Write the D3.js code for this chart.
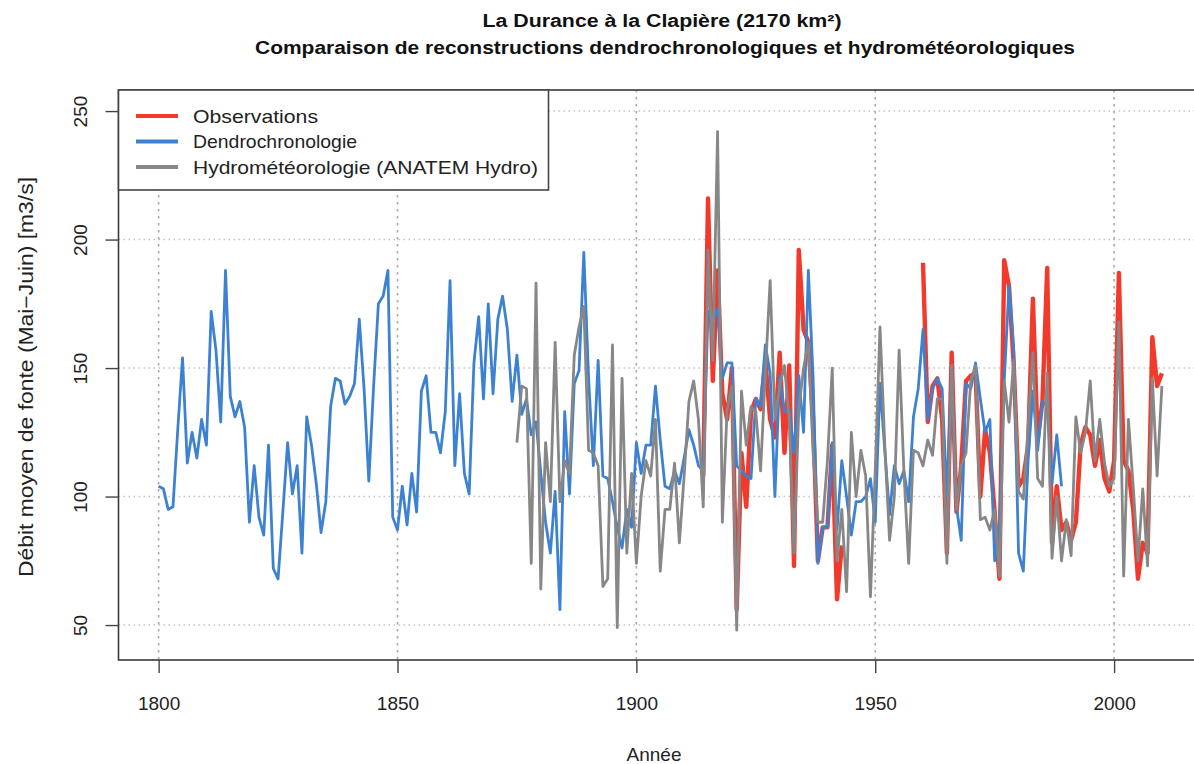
<!DOCTYPE html>
<html>
<head>
<meta charset="utf-8">
<script src="https://cdn.jsdelivr.net/npm/d3@7"></script>
<style>
  html, body { margin: 0; padding: 0; background: #fff; }
  svg { display: block; font-family: "Liberation Sans", Arial, Helvetica, sans-serif; }
</style>
</head>
<body>
<svg id="chart" width="1194" height="764"></svg>
<script>
// ---------- DATA ----------
const titleLines = ["La Durance à la Clapière (2170 km²)",
                    "Comparaison de reconstructions dendrochronologiques et hydrométéorologiques"];
const xLabel = "Année";
const yLabel = "Débit moyen de fonte (Mai\u2212Juin) [m3/s]";
const xTicks = [1800, 1850, 1900, 1950, 2000];
const yTicks = [50, 100, 150, 200, 250];
const seriesNames = ["Observations", "Dendrochronologie", "Hydrométéorologie (ANATEM Hydro)"];
const seriesColors = ["#f23a2c", "#3d82d2", "#878787"];

// Dendrochronology reconstruction, 1800-1989
const dendroStart = 1800;
const dendroValues = [
  104,103,95,96,126,154,113,125,115,130,     // 1800-1809
  120,172,157,129,188,139,131,137,127,90,    // 1810-1819
  112,92,85,120,72,68,94,121,101,112,        // 1820-1829
  78,131,120,105,86,98,135,146,145,136,      // 1830-1839
  139,144,169,142,106,143,175,178,188,92,    // 1840-1849
  87,104,89,109,94,141,147,125,125,117,      // 1850-1859
  133,184,112,140,109,101,152,170,138,175,   // 1860-1869
  140,169,178,165,137,155,132,138,124,129,   // 1870-1879
  109,90,78,102,56,133,101,144,149,195,      // 1880-1889
  146,112,153,108,107,98,88,80,95,88,        // 1890-1899
  121,109,120,120,143,122,104,103,110,105,   // 1900-1909
  115,126,120,112,110,172,169,173,146,152,   // 1910-1919
  152,112,110,108,107,138,135,159,148,100,   // 1920-1929
  147,133,134,117,147,125,188,146,74,88,     // 1930-1939
  88,121,87,114,100,85,98,98,100,107,        // 1940-1949
  90,144,118,93,112,105,110,98,131,142,      // 1950-1959
  165,130,142,146,142,100,150,96,83,144,     // 1960-1969
  142,152,138,125,130,75,88,145,182,157,     // 1970-1979
  78,71,114,141,118,137,135,105,124,104      // 1980-1989
];

// Observations, 1914-2010 (no data 1944-1959)
const obsStart = 1914;
const obsValues = [
  108,216,145,188,140,130,                   // 1914-1919
  150,56,117,96,133,138,134,153,130,123,     // 1920-1929
  156,117,151,73,196,165,160,130,75,88,      // 1930-1939
  88,120,60,81,null,null,null,null,null,null,// 1940-1949
  null,null,null,null,null,null,null,null,null,null, // 1950-1959
  191,129,143,146,130,78,156,94,112,145,     // 1960-1969
  147,148,100,126,117,94,68,192,182,151,     // 1970-1979
  104,107,120,177,122,137,189,82,104,87,     // 1980-1989
  90,83,90,120,127,124,112,122,107,102,      // 1990-1999
  114,187,114,110,95,68,82,78,162,143,       // 2000-2009
  148                                        // 2010
];

// Hydrometeorological reconstruction (ANATEM Hydro), 1875-2010
const hydroStart = 1875;
const hydroValues = [
  121,143,142,74,183,                        // 1875-1879
  64,121,98,160,98,114,109,155,166,174,      // 1880-1889
  118,117,112,65,68,159,49,146,78,109,       // 1890-1899
  74,100,114,108,130,71,95,95,113,82,        // 1900-1909
  108,137,145,130,96,196,153,242,90,134,     // 1910-1919
  143,48,141,120,135,133,110,148,184,130,    // 1920-1929
  143,151,130,78,134,150,160,117,90,90,      // 1930-1939
  114,150,75,95,63,125,100,118,108,61,       // 1940-1949
  110,166,120,83,100,157,110,74,118,117,     // 1950-1959
  112,122,116,138,138,74,151,95,112,117,     // 1960-1969
  145,151,91,92,87,95,69,145,129,153,        // 1970-1979
  102,99,127,156,107,104,148,76,100,75,      // 1980-1989
  91,77,131,117,125,145,114,130,113,104,     // 1990-1999
  107,168,69,130,104,75,103,73,146,108,      // 2000-2009
  143                                        // 2010
];

// ---------- CHART ----------
const svg = d3.select("#chart");
const plot = {left: 118.5, right: 1202, top: 90, bottom: 660};

const x = d3.scaleLinear().domain([1791.6, 2018.4]).range([plot.left, plot.right]);
const y = d3.scaleLinear().domain([36.4, 258.2]).range([plot.bottom, plot.top]);

const toPts = (start, vals) => vals.map((v, i) => ({year: start + i, v: v}));
const obs = toPts(obsStart, obsValues);
const dendro = toPts(dendroStart, dendroValues);
const hydro = toPts(hydroStart, hydroValues);

// clip
svg.append("defs").append("clipPath").attr("id", "clip")
  .append("rect").attr("x", plot.left).attr("y", plot.top)
  .attr("width", plot.right - plot.left).attr("height", plot.bottom - plot.top);

// grid
const grid = svg.append("g");
grid.selectAll("line.h").data(yTicks).join("line")
  .attr("x1", plot.left).attr("x2", plot.right)
  .attr("y1", d => y(d)).attr("y2", d => y(d))
  .attr("stroke", "#c4c4c4").attr("stroke-width", 1.4).attr("stroke-dasharray", "1.5,3.5");
grid.selectAll("line.v").data(xTicks).join("line")
  .attr("x1", d => x(d)).attr("x2", d => x(d))
  .attr("y1", plot.top).attr("y2", plot.bottom)
  .attr("stroke", "#a8a8a8").attr("stroke-width", 1.6).attr("stroke-dasharray", "2.5,4.5");

// lines
const line = d3.line().defined(d => d.v != null).x(d => x(d.year)).y(d => y(d.v));
const lines = svg.append("g").attr("clip-path", "url(#clip)");
lines.append("path").datum(obs).attr("d", line)
  .attr("fill", "none").attr("stroke", seriesColors[0]).attr("stroke-width", 4.4)
  .attr("stroke-linejoin", "round");
lines.append("path").datum(dendro).attr("d", line)
  .attr("fill", "none").attr("stroke", seriesColors[1]).attr("stroke-width", 2.8)
  .attr("stroke-linejoin", "round");
lines.append("path").datum(hydro).attr("d", line)
  .attr("fill", "none").attr("stroke", seriesColors[2]).attr("stroke-width", 2.8)
  .attr("stroke-linejoin", "round");

// box
svg.append("rect").attr("x", plot.left).attr("y", plot.top)
  .attr("width", plot.right - plot.left).attr("height", plot.bottom - plot.top)
  .attr("fill", "none").attr("stroke", "#3a3a3a").attr("stroke-width", 1.6);

// x axis
const xAxis = svg.append("g").attr("transform", `translate(0,${plot.bottom})`)
  .call(d3.axisBottom(x).tickValues(xTicks).tickFormat(d3.format("d")).tickSize(13).tickPadding(24));
xAxis.select(".domain").remove();
xAxis.selectAll(".tick line").attr("stroke", "#444").attr("stroke-width", 1.4);
xAxis.selectAll(".tick text").attr("font-size", 19).attr("fill", "#222")
  .attr("font-family", "'Liberation Sans', Arial, sans-serif");

// y axis
const yAxis = svg.append("g").attr("transform", `translate(${plot.left},0)`)
  .call(d3.axisLeft(y).tickValues(yTicks).tickSize(13).tickPadding(0).tickFormat(d3.format("d")));
yAxis.select(".domain").remove();
yAxis.selectAll(".tick line").attr("stroke", "#444").attr("stroke-width", 1.4);
yAxis.selectAll(".tick text")
  .attr("x", 0).attr("dy", 0)
  .attr("transform", "translate(-32,0) rotate(-90)")
  .attr("text-anchor", "middle").attr("font-size", 19).attr("fill", "#222")
  .attr("font-family", "'Liberation Sans', Arial, sans-serif");

// axis titles
svg.append("text").attr("x", 654).attr("y", 761).attr("text-anchor", "middle")
  .attr("font-size", 19).attr("fill", "#222").text(xLabel);
svg.append("text").attr("transform", "translate(33,377) rotate(-90)")
  .attr("text-anchor", "middle").attr("font-size", 20).attr("fill", "#222")
  .attr("textLength", 400).attr("lengthAdjust", "spacingAndGlyphs").text(yLabel);

// title
svg.append("text").attr("x", 662).attr("y", 27).attr("text-anchor", "middle")
  .attr("font-size", 18).attr("font-weight", "bold").attr("fill", "#111")
  .attr("textLength", 359).attr("lengthAdjust", "spacingAndGlyphs").text(titleLines[0]);
svg.append("text").attr("x", 665).attr("y", 54).attr("text-anchor", "middle")
  .attr("font-size", 18).attr("font-weight", "bold").attr("fill", "#111")
  .attr("textLength", 820).attr("lengthAdjust", "spacingAndGlyphs").text(titleLines[1]);

// legend
const lg = svg.append("g");
lg.append("rect").attr("x", plot.left).attr("y", plot.top).attr("width", 430).attr("height", 100)
  .attr("fill", "#fff").attr("stroke", "#444").attr("stroke-width", 1.6);
const legendW = [125, 164, 345];
seriesNames.forEach((name, i) => {
  const yy = 116 + i * 25.5;
  lg.append("line").attr("x1", 136).attr("x2", 178).attr("y1", yy).attr("y2", yy)
    .attr("stroke", seriesColors[i]).attr("stroke-width", 4);
  lg.append("text").attr("x", 193).attr("y", yy + 6.5).attr("font-size", 19).attr("fill", "#222")
    .attr("textLength", legendW[i]).attr("lengthAdjust", "spacingAndGlyphs").text(name);
});
</script>
</body>
</html>
